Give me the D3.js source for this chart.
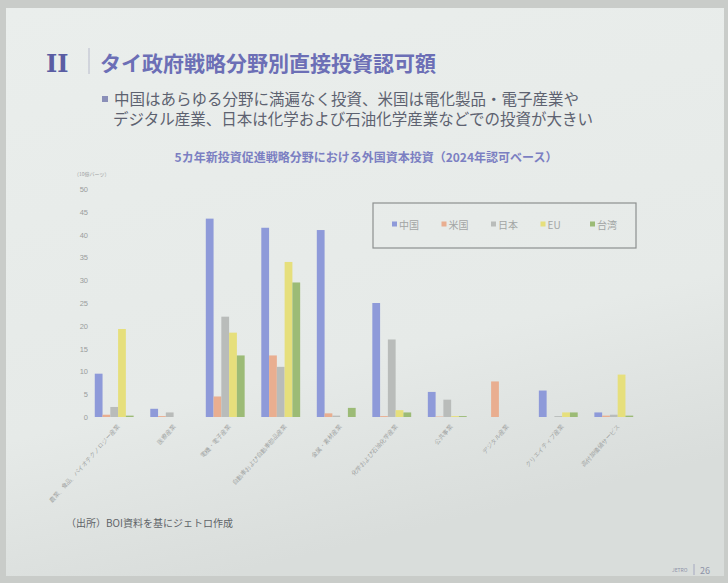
<!DOCTYPE html>
<html lang="ja">
<head>
<meta charset="UTF-8">
<title>タイ政府戦略分野別直接投資認可額</title>
<script src="https://cdn.jsdelivr.net/npm/d3@7"></script>
<style>
  body { margin: 0; background: #c9ccc9; }
  svg { display: block; font-family: "Noto Sans CJK JP", "Noto Sans", sans-serif; }
  .tick text { fill: #9a9d9c; }
</style>
</head>
<body>
<svg id="chart" width="728" height="583"></svg>
<script>
// categories (BOI 5-year strategy sectors)
const sectors = [
  "農業、食品、バイオテクノロジー産業",
  "医療産業",
  "電機・電子産業",
  "自動車および自動車部品産業",
  "金属・素材産業",
  "化学および石油化学産業",
  "公共事業",
  "デジタル産業",
  "クリエイティブ産業",
  "高付加価値サービス"
];
const countries = ["中国", "米国", "日本", "EU", "台湾"];
// values, 10億バーツ
const china  = [9.5, 1.8, 43.5, 41.5, 41.0, 25.0, 5.5, 0.0, 5.8, 1.0];
const usa    = [0.5, 0.2, 4.5, 13.5, 0.8, 0.2, 0.1, 7.8, 0.0, 0.3];
const japan  = [2.2, 1.0, 22.0, 11.0, 0.3, 17.0, 3.8, 0.0, 0.2, 0.5];
const eu     = [19.3, 0.0, 18.5, 34.0, 0.0, 1.5, 0.2, 0.0, 1.0, 9.3];
const taiwan = [0.3, 0.0, 13.5, 29.5, 2.0, 1.0, 0.2, 0.0, 1.0, 0.3];
const yTicks = [0, 5, 10, 15, 20, 25, 30, 35, 40, 45, 50];

const series = [china, usa, japan, eu, taiwan];
const colors = ["#8e9ad9", "#e9ae90", "#b9bcba", "#e6df7c", "#9cbb76"];

const svg = d3.select("#chart");

// slide background
const defs = svg.append("defs");
const grad = defs.append("linearGradient").attr("id", "bg")
  .attr("x1", 0).attr("y1", 0).attr("x2", 0.3).attr("y2", 1);
grad.append("stop").attr("offset", 0).attr("stop-color", "#eaeeec");
grad.append("stop").attr("offset", 0.7).attr("stop-color", "#e6eae8");
grad.append("stop").attr("offset", 1).attr("stop-color", "#d9dddb");
svg.append("rect").attr("x", 6).attr("y", 8).attr("width", 718).attr("height", 568)
  .attr("fill", "url(#bg)");

// header
svg.append("text").attr("x", 46).attr("y", 72)
  .attr("font-family", "DejaVu Serif, serif").attr("font-weight", "bold")
  .attr("font-size", 24).attr("fill", "#5a5da3").text("II");
svg.append("line").attr("x1", 89).attr("y1", 48).attr("x2", 89).attr("y2", 74)
  .attr("stroke", "#b8bbcc").attr("stroke-width", 1);
svg.append("text").attr("x", 100).attr("y", 71)
  .attr("font-weight", "bold").attr("font-size", 21).attr("fill", "#6c6fb6")
  .text("タイ政府戦略分野別直接投資認可額");

svg.append("rect").attr("x", 102).attr("y", 96).attr("width", 6).attr("height", 6)
  .attr("fill", "#8a8fb8");
svg.append("text").attr("x", 114).attr("y", 105)
  .attr("font-size", 15.5).attr("fill", "#5d6270")
  .text("中国はあらゆる分野に満遍なく投資、米国は電化製品・電子産業や");
svg.append("text").attr("x", 113).attr("y", 125)
  .attr("font-size", 15.5).attr("fill", "#5d6270")
  .text("デジタル産業、日本は化学および石油化学産業などでの投資が大きい");

svg.append("text").attr("x", 366).attr("y", 162).attr("text-anchor", "middle")
  .attr("font-weight", "bold").attr("font-size", 12).attr("fill", "#7b7fc2")
  .text("5カ年新投資促進戦略分野における外国資本投資（2024年認可ベース）");

// scales
const y = d3.scaleLinear().domain([0, 50]).range([417, 189]);
const x = d3.scaleBand().domain(sectors).range([92, 636]).paddingInner(0.3).paddingOuter(0.05);
const xs = d3.scaleBand().domain(countries).range([0, x.bandwidth()]);

// unit label
svg.append("text").attr("x", 74).attr("y", 176).attr("font-size", 5)
  .attr("fill", "#a0a3a2").text("（10億バーツ）");

// y axis
const yAxis = svg.append("g").attr("transform", "translate(92,0)")
  .call(d3.axisLeft(y).tickValues(yTicks).tickSize(0).tickPadding(4));
yAxis.select(".domain").remove();
yAxis.selectAll("text").attr("font-size", 7.5);

// bars
const groups = svg.append("g").selectAll("g").data(sectors).join("g")
  .attr("transform", d => `translate(${x(d)},0)`);
groups.selectAll("rect")
  .data((d, i) => countries.map((c, k) => ({ c, v: series[k][i] })))
  .join("rect")
  .attr("x", d => xs(d.c))
  .attr("y", d => y(d.v))
  .attr("width", xs.bandwidth())
  .attr("height", d => y(0) - y(d.v))
  .attr("fill", d => colors[countries.indexOf(d.c)]);

// x axis labels (rotated)
const xAxis = svg.append("g").attr("transform", `translate(0,${y(0)})`)
  .call(d3.axisBottom(x).tickSize(0).tickPadding(0));
xAxis.select(".domain").remove();
xAxis.selectAll("text")
  .attr("font-size", 6)
  .attr("text-anchor", "end")
  .attr("dy", 0)
  .attr("transform", "translate(6,10) rotate(-48)");

// legend
const lg = svg.append("g");
lg.append("rect").attr("x", 373).attr("y", 203).attr("width", 263).attr("height", 45)
  .attr("fill", "none").attr("stroke", "#8d908f").attr("stroke-width", 1.2);
const legendX = d3.scalePoint().domain(countries).range([392, 590]);
const items = lg.selectAll("g.item").data(countries).join("g").attr("class", "item")
  .attr("transform", d => `translate(${legendX(d)},225)`);
items.append("rect").attr("x", 0).attr("y", -3.5).attr("width", 5).attr("height", 5)
  .attr("fill", (d, i) => colors[i]);
items.append("text").attr("x", 7).attr("y", 3.5).attr("font-size", 10)
  .attr("fill", "#a2a5a4").text(d => d);

// source
svg.append("text").attr("x", 66).attr("y", 527).attr("font-size", 10)
  .attr("fill", "#5f6468").text("（出所）BOI資料を基にジェトロ作成");

// footer
svg.append("text").attr("x", 672).attr("y", 572).attr("font-size", 5)
  .attr("fill", "#8e92a8").text("JETRO");
svg.append("line").attr("x1", 694).attr("y1", 564).attr("x2", 694).attr("y2", 575)
  .attr("stroke", "#a5a8c0");
svg.append("text").attr("x", 700).attr("y", 574).attr("font-size", 9)
  .attr("fill", "#8e92a8").text("26");
</script>
</body>
</html>
